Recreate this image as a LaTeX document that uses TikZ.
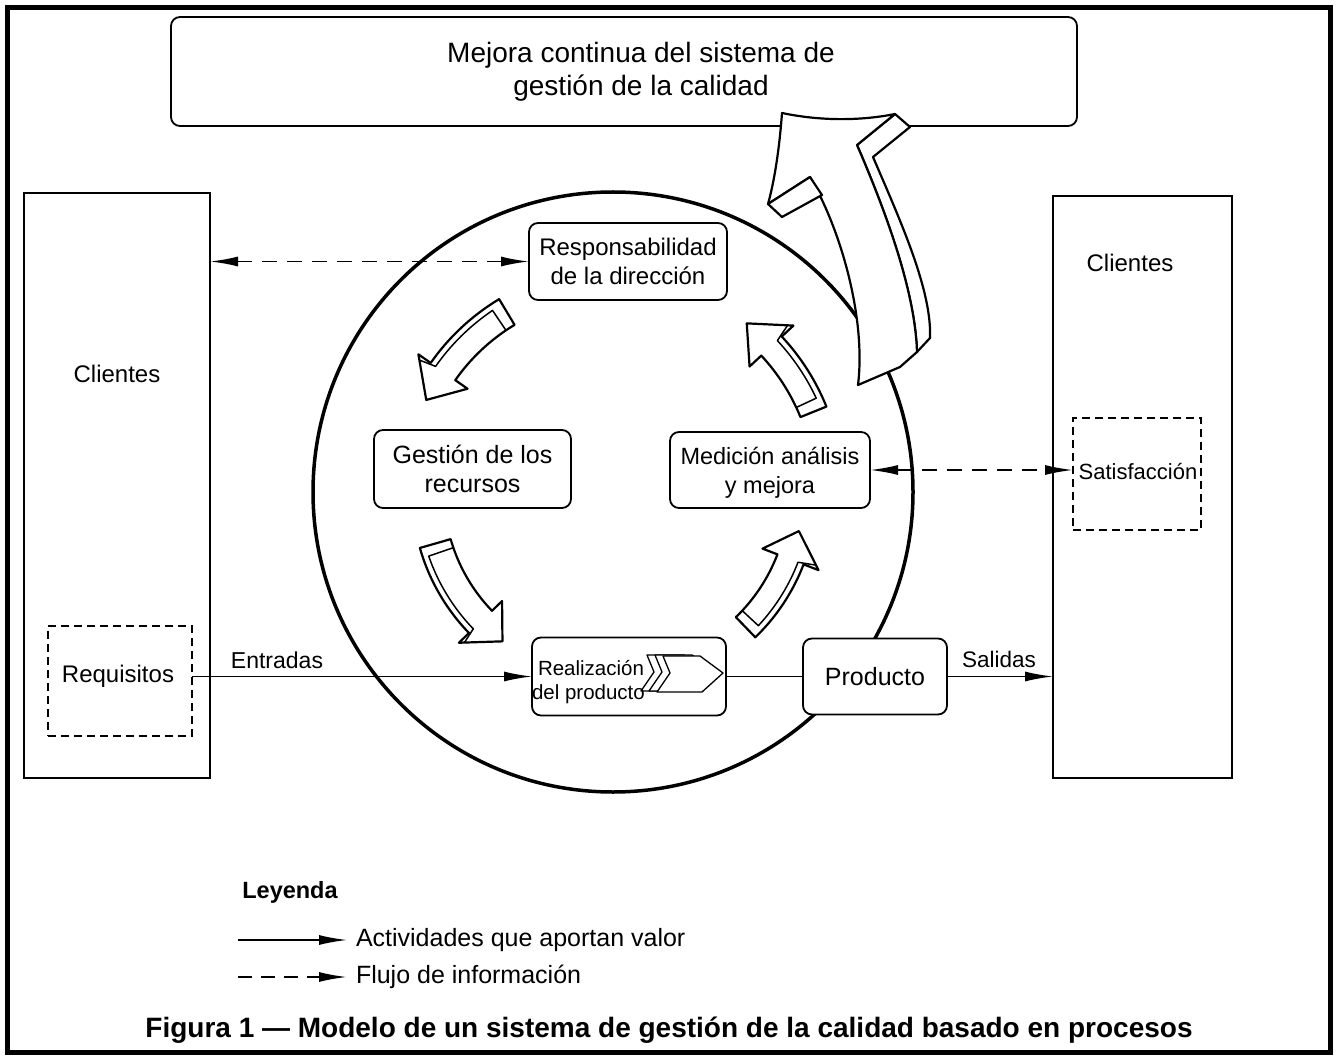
\documentclass[tikz,border=0pt]{standalone}
\usepackage{fontspec}
\setmainfont{Liberation Sans}
\usetikzlibrary{calc,arrows.meta}
\newcommand\blkarrow[4]{%
  \pgfmathsetmacro\BAha{#2-9}%
  \pgfmathsetmacro\BAro{#3+#4}%
  \pgfmathsetmacro\BAri{#3-#4}%
  \pgfmathsetmacro\BAbo{#3+30}%
  \pgfmathsetmacro\BAbi{#3-30}%
  \pgfmathsetmacro\BAs{#3+#4-6}%
  \pgfmathsetmacro\BAt{#1+3}%
  \pgfmathsetmacro\BAhb{#2-8}%
  \pgfmathsetmacro\BAbb{#3+26}%
  \draw[blk] ($(c)+(#1:\BAri pt)$) arc[start angle=#1, end angle=\BAha, radius=\BAri pt]
     -- ($(c)+(\BAha:\BAbi pt)$) -- ($(c)+(#2:#3 pt)$) -- ($(c)+(\BAha:\BAbo pt)$)
     -- ($(c)+(\BAha:\BAro pt)$) arc[start angle=\BAha, end angle=#1, radius=\BAro pt] -- cycle;
  \draw[blkthin] ($(c)+(\BAt:\BAri pt)$) -- ($(c)+(\BAt:\BAs pt)$)
     arc[start angle=\BAt, end angle=\BAha, radius=\BAs pt] -- ($(c)+(\BAhb:\BAbb pt)$);
}
\newcommand\chevron[2]{%
  \draw[fill=white, line width=1.3pt, line join=round, shift={(#1,#2)}]
    (663,656) -- (700,656) -- (723,673) -- (702,692) -- (657,692) -- (670,673) -- cycle;}
\begin{document}
\begin{tikzpicture}[x=1pt,y=-1pt,
  every node/.style={inner sep=0pt, outer sep=0pt},
  rbox/.style={draw, line width=1.8pt, rounded corners=9pt, fill=white},
  sbox/.style={draw, line width=1.8pt, fill=white},
  dbox/.style={draw, line width=1.6pt, dash pattern=on 8pt off 5pt},
  >={Latex[length=28pt,width=10pt]},
  act/.style={line width=1.6pt, ->},
  info/.style={line width=1.8pt, dash pattern=on 15pt off 10pt, <->},
  blk/.style={draw, line width=2.2pt, fill=white, line join=round},
  blkthin/.style={draw, line width=1.5pt, line join=round},
  t24/.style={font=\fontsize{24}{29}\selectfont, align=center},
  t25/.style={font=\fontsize{25}{29}\selectfont, align=center},
]
\useasboundingbox (0,0) rectangle (1336,1059);
\fill[white] (0,0) rectangle (1336,1059);
\draw[line width=5pt] (7.5,7.5) rectangle (1330.5,1052);

% top box
\node[rbox, minimum width=906pt, minimum height=109pt] (top) at (624,71.5) {};
\node[font=\fontsize{28}{33}\selectfont, align=center] (toptext) at (641,72) {Mejora continua del sistema de\\gestión de la calidad};

% circle
\coordinate (cc) at (613,492);
\coordinate (c) at (615,492);
\draw[line width=3.5pt] (cc) circle[radius=300pt];

% curved block arrows
\blkarrow{121}{154}{210}{15}
\blkarrow{196}{233}{187}{16}
\blkarrow{314}{348}{188}{14}
\blkarrow{22}{52}{214}{14}

% big improvement arrow
\draw[blk] (895,114) -- (910,127) -- (873,157) .. controls (900,220) and (932,290) .. (930,338)
   -- (917,352) .. controls (915,290) and (885,210) .. (857,145) -- cycle;
\draw[blk] (782,113) .. controls (820,121) and (860,121) .. (895,114) -- (857,145)
   .. controls (885,210) and (915,290) .. (917,352) -- (900,367) -- (858,385)
   .. controls (866,320) and (842,232) .. (810,177) -- (768,204)
   .. controls (776,175) and (780,140) .. (782,113) -- cycle;
\draw[blk] (768,204) -- (782,217) -- (822,195) -- (810,177) -- cycle;

% clients boxes
\node[sbox, minimum width=186pt, minimum height=585pt] (cll) at (117,485.5) {};
\node[t24] (clltext) at (117,374) {Clientes};
\node[dbox, minimum width=144pt, minimum height=110pt] (req) at (120,681) {};
\node[t24] (reqtext) at (118,676) {Requisitos};

\node[sbox, minimum width=179pt, minimum height=582pt] (clr) at (1142.5,487) {};
\node[t24] (clrtext) at (1130,263) {Clientes};
\node[dbox, minimum width=128pt, minimum height=112pt] (sat) at (1137,474) {};
\node[font=\fontsize{22}{26}\selectfont] (sattext) at (1138,472) {Satisfacción};

% process nodes
\node[rbox, t24, minimum width=198pt, minimum height=77pt] (resp) at (628,261.5) {Responsabilidad\\de la dirección};
\node[rbox, t25, minimum width=197pt, minimum height=78pt] (gest) at (472.5,469) {Gestión de los\\recursos};
\node[rbox, minimum width=200pt, minimum height=76pt] (med) at (770,470) {};
\node[font=\fontsize{23.5}{29}\selectfont, align=center] (medtext) at (770,473) {Medición análisis\\y mejora};
\node[rbox, minimum width=194pt, minimum height=78pt] (real) at (629,676.5) {};
\chevron{-16}{-1}
\chevron{-8}{-1}
\chevron{0}{0}
\node[font=\fontsize{20.5}{24}\selectfont, anchor=west] (realt1) at (538,668) {Realización};
\node[font=\fontsize{20.5}{24}\selectfont, anchor=west] (realt2) at (532,694) {del producto};
\node[rbox, t25, minimum width=144pt, minimum height=76pt] (prod) at (875,676.5) {Producto};

% connectors
\draw[info] (cll.east |- resp.west) -- (resp.west);
\draw[info] (med.east) -- (sat.west |- med.east);
\draw[act] (req.east |- real.west) -- (real.west);
\draw[line width=1.6pt] (real.east) -- (prod.west);
\draw[act] (prod.east) -- (clr.west |- prod.east);
\node[font=\fontsize{23}{27}\selectfont] (entr) at (277,660) {Entradas};
\node[font=\fontsize{22.5}{27}\selectfont] (sal) at (999,659) {Salidas};

% legend
\node[font=\bfseries\fontsize{23.5}{28}\selectfont] (ley) at (290,892) {Leyenda};
\coordinate (la1) at (238,940);
\coordinate (lb1) at (347,940);
\coordinate (la2) at (238,977);
\coordinate (lb2) at (347,977);
\draw[act] (la1) -- (lb1);
\draw[line width=1.8pt, dash pattern=on 14pt off 9pt, ->] (la2) -- (lb2);
\node[font=\fontsize{25}{29}\selectfont, anchor=west] (lt1) at (356,940) {Actividades que aportan valor};
\node[font=\fontsize{25}{29}\selectfont, anchor=west] (lt2) at (356,977) {Flujo de información};

% caption
\node[font=\bfseries\fontsize{28}{32}\selectfont] (cap) at (669,1030) {Figura 1 — Modelo de un sistema de gestión de la calidad basado en procesos};
\end{tikzpicture}
\end{document}
